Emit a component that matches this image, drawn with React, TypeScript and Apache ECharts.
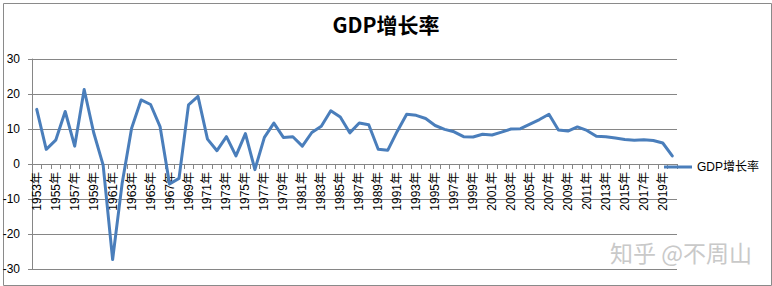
import React, { useEffect, useRef } from "react";
import * as echarts from "echarts";

const years: number[] = [];
for (let y = 1953; y <= 2020; y++) years.push(y);
const categories = years.map((y) => `${y}年`);

const gdpGrowth = [
  15.6, 4.2, 6.8, 15.0, 5.1, 21.3, 9.0, -0.3, -27.3, -5.6,
  10.2, 18.3, 17.0, 10.7, -5.7, -4.1, 16.9, 19.3, 7.1, 3.8,
  7.8, 2.3, 8.7, -1.6, 7.6, 11.7, 7.6, 7.8, 5.1, 9.0,
  10.8, 15.2, 13.4, 8.9, 11.7, 11.2, 4.2, 3.9, 9.3, 14.2,
  13.9, 13.0, 11.0, 9.9, 9.2, 7.8, 7.7, 8.5, 8.3, 9.1,
  10.0, 10.1, 11.4, 12.7, 14.2, 9.7, 9.4, 10.6, 9.6, 7.9,
  7.8, 7.4, 7.0, 6.8, 6.9, 6.7, 6.0, 2.3,
];

const yTicks = [-30, -20, -10, 0, 10, 20, 30];
const seriesName = "GDP增长率";
const titleText = "GDP增长率";
const watermark = "知乎 @不周山";

const GRID_TOP = 59;
const GRID_BOTTOM = 17;
const CHART_H = 286;

export default function App() {
  const ref = useRef<HTMLDivElement>(null);
  useEffect(() => {
    if (!ref.current) return;
    const chart = echarts.init(ref.current, undefined, { renderer: "svg" });
    const gridColor = "#868686";
    const yMin = yTicks[0];
    const yMax = yTicks[yTicks.length - 1];
    const plotH = CHART_H - GRID_TOP - GRID_BOTTOM;
    // distance from grid bottom (yMin) up to the zero line
    const zeroOffset = -Math.round((plotH * (0 - yMin)) / (yMax - yMin));
    chart.setOption({
      animation: false,
      backgroundColor: "#ffffff",
      title: {
        text: titleText,
        left: "center",
        top: 8,
        textStyle: {
          fontSize: 21,
          fontWeight: "bold",
          color: "#000",
          fontFamily: "'Noto Sans CJK SC', 'Noto Sans', sans-serif",
        },
      },
      legend: {
        orient: "vertical",
        left: 659,
        top: 156,
        icon: "rect",
        itemWidth: 28,
        itemHeight: 3,
        textStyle: {
          fontSize: 12,
          color: "#000",
          fontFamily: "'Liberation Sans', 'Noto Sans CJK SC', sans-serif",
        },
        data: [seriesName],
      },
      grid: {
        left: 32,
        right: 95,
        top: GRID_TOP,
        bottom: GRID_BOTTOM,
        containLabel: false,
        outerBoundsMode: "none",
      },
      xAxis: {
        type: "category",
        data: categories,
        boundaryGap: true,
        position: "bottom",
        offset: zeroOffset,
        axisLine: { show: true, onZero: false, lineStyle: { color: gridColor, width: 1 } },
        axisTick: { show: true, interval: 0, length: 5, lineStyle: { color: gridColor } },
        axisLabel: {
          interval: 1,
          rotate: 90,
          fontSize: 12,
          color: "#000",
          margin: 8,
          fontFamily: "'Liberation Sans', 'Noto Sans CJK SC', sans-serif",
        },
        splitLine: { show: false },
      },
      yAxis: {
        type: "value",
        min: yMin,
        max: yMax,
        interval: 10,
        axisLine: { show: true, lineStyle: { color: gridColor, width: 1 } },
        axisTick: { show: true, length: 4, lineStyle: { color: gridColor } },
        axisLabel: {
          fontSize: 12,
          color: "#000",
          margin: 12,
          fontFamily: "'Liberation Sans', sans-serif",
        },
        splitLine: { show: true, lineStyle: { color: gridColor, width: 1 } },
      },
      series: [
        {
          name: seriesName,
          type: "line",
          data: gdpGrowth,
          showSymbol: false,
          symbol: "none",
          lineStyle: { color: "#4a7ebb", width: 3, join: "round", cap: "round" },
          itemStyle: { color: "#4a7ebb" },
        },
      ],
      graphic: [
        {
          type: "rect",
          left: 1,
          top: 1,
          shape: { x: 0, y: 0, width: 768, height: 282 },
          style: { fill: "none", stroke: "#8a8a8a", lineWidth: 1 },
          silent: true,
          z: -1,
        },
        {
          type: "text",
          left: 610,
          top: 240,
          style: {
            text: watermark,
            fontSize: 23,
            fill: "#c9c9c9",
            fontFamily: "'Noto Sans CJK SC', sans-serif",
          },
          silent: true,
        },
      ],
    });
    return () => chart.dispose();
  }, []);
  return (
    <div
      ref={ref}
      style={{ position: "absolute", left: 0, top: 0, width: 772, height: 286 }}
    />
  );
}
